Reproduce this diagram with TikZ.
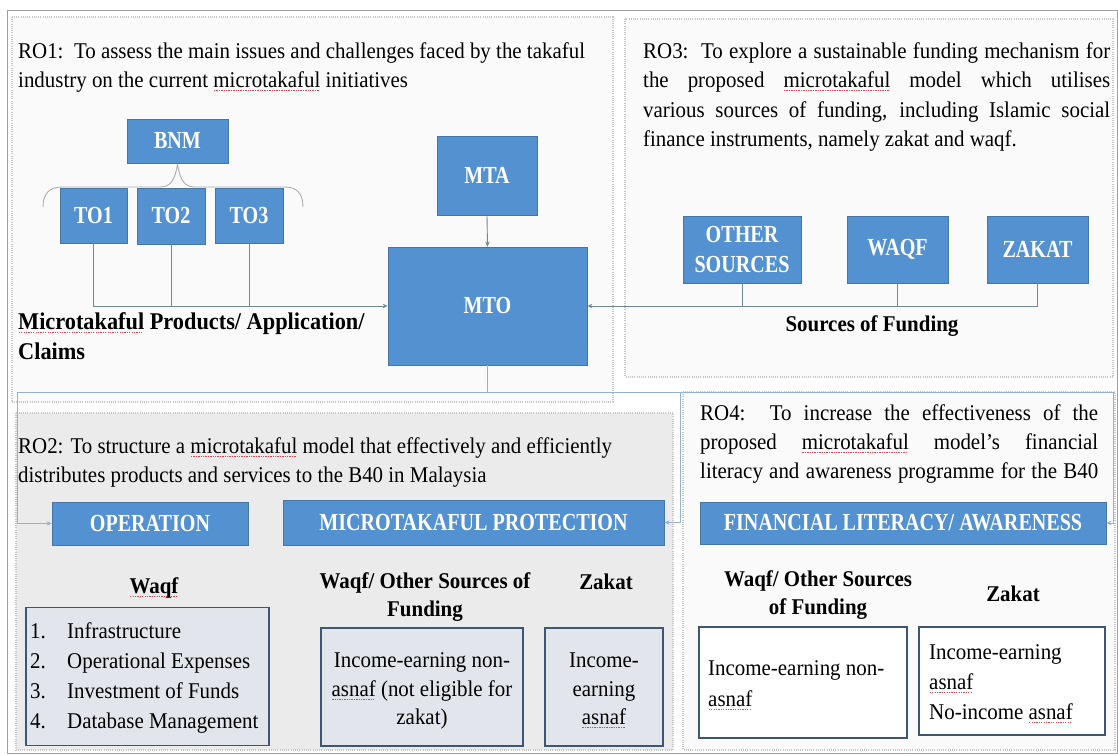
\documentclass[tikz,border=0pt]{standalone}
\usepackage{fontspec}
\setmainfont{Liberation Serif}[FakeStretch=0.93]
\newfontfamily\labelfont{Liberation Serif}[FakeStretch=0.82]
\usetikzlibrary{arrows.meta}

\definecolor{boxblue}{RGB}{84,145,208}
\definecolor{boxedge}{RGB}{70,118,165}
\definecolor{connline}{RGB}{112,134,162}
\definecolor{busline}{RGB}{150,178,210}
\definecolor{oboxedge}{RGB}{62,86,116}
\definecolor{oboxfill}{RGB}{226,230,236}
\definecolor{sqred}{RGB}{215,70,80}

% red spell-check underline under a word
\newsavebox\sqbox
\newcommand{\sqw}[1]{\sbox\sqbox{#1}\rlap{\textcolor{sqred}{\hbox to \wd\sqbox{\leaders\hbox to 2.4pt{\hss\rule[-4pt]{1.3pt}{0.9pt}\hss}\hfill}}}\usebox\sqbox}
\newcommand{\bodysize}{\fontsize{22.5}{29.5}\selectfont}

\begin{document}
\begin{tikzpicture}[x=1pt,y=-1pt,
  frame/.style={draw=gray!75, line width=1pt},
  region/.style={draw=gray!45, line width=1.3pt, dash pattern=on 1pt off 1.2pt},
  bbox/.style={draw=boxedge, line width=0.8pt, fill=boxblue, text=white, align=center, inner sep=0pt,
    font=\labelfont\bfseries\fontsize{24.5}{30}\selectfont},
  obox/.style={draw=oboxedge, line width=1.6pt, inner sep=0pt},
  txt/.style={anchor=base west, inner sep=0pt, font=\bodysize},
  ctxt/.style={anchor=base, inner sep=0pt, font=\bodysize},
  hd/.style={anchor=base, inner sep=0pt, font=\bodysize\bfseries},
  conn/.style={draw=connline, line width=0.9pt},
  bus/.style={draw=busline, line width=1pt},
  tip/.style={-{Stealth[length=5pt,width=4.5pt]}},
  bracel/.style={draw=gray!65, line width=0.9pt}
]
\useasboundingbox (0,0) rectangle (1118,755);
\fill[white] (0,0) rectangle (1118,755);
\draw[frame] (7,10) rectangle (1117,753);

% objective regions
\draw[region, fill=gray!4] (12,17) rectangle (613,402);
\draw[region, fill=gray!4] (625,19) rectangle (1113,377);
\draw[region, fill=gray!4] (683,392) rectangle (1115,750);
\draw[region, fill=gray!16] (16,413) rectangle (673,750);

% RO1 text
\node[txt] (ro1a) at (18,58) {RO1:\ \ To assess the main issues and challenges faced by the takaful};
\node[txt] (ro1b) at (18,87) {industry on the current \sqw{microtakaful} initiatives};
\node[txt, font=\fontsize{24}{30}\selectfont\bfseries] (prodA) at (18,329) {\sqw{Microtakaful} Products/ Application/};
\node[txt, font=\fontsize{24}{30}\selectfont\bfseries] (prodB) at (18,359) {Claims};

% RO3 text
\node[txt] (ro3a) at (643,58) {\makebox[467pt][s]{RO3:\ \ To explore a sustainable funding mechanism for}};
\node[txt] (ro3b) at (643,87) {\makebox[467pt][s]{the proposed \sqw{microtakaful} model which utilises}};
\node[txt] (ro3c) at (643,117) {\makebox[467pt][s]{various sources of funding, including Islamic social}};
\node[txt] (ro3d) at (643,146) {finance instruments, namely zakat and waqf.};
\node[hd] (srcf) at (872,331) {Sources of Funding};

% RO2 text
\node[txt] (ro2a) at (18,453) {RO2: To structure a \sqw{microtakaful} model that effectively and efficiently};
\node[txt] (ro2b) at (18,482) {distributes products and services to the B40 in Malaysia};

% RO4 text
\node[txt] (ro4a) at (700,420) {\makebox[398pt][s]{RO4:\ \ To increase the effectiveness of the}};
\node[txt] (ro4b) at (700,449) {\makebox[398pt][s]{proposed \sqw{microtakaful} model's financial}};
\node[txt] (ro4c) at (700,478) {\makebox[398pt][s]{literacy and awareness programme for the B40}};

% brace joining BNM to the takaful operators
\draw[bracel] (43,207) .. controls (43,194) and (49,187) .. (62,187) -- (160,187)
  .. controls (170,187) and (175,181) .. (177.5,164)
  .. controls (180,181) and (185,187) .. (195,187) -- (285,187)
  .. controls (297,187) and (303,194) .. (303,207);

% blue boxes
\node[bbox, minimum width=101, minimum height=44] (bnm) at (177.5,141) {BNM};
\node[bbox, minimum width=67, minimum height=55] (to1) at (93.5,215.5) {TO1};
\node[bbox, minimum width=68, minimum height=56] (to2) at (171,216) {TO2};
\node[bbox, minimum width=68, minimum height=55] (to3) at (249,215.5) {TO3};
\node[bbox, minimum width=100, minimum height=79] (mta) at (487,175.5) {MTA};
\node[bbox, minimum width=199, minimum height=118] (mto) at (487.5,306) {MTO};
\node[bbox, minimum width=118, minimum height=67] (oth) at (742,249.5) {OTHER\\SOURCES};
\node[bbox, minimum width=101, minimum height=67] (wqf) at (897.5,249.5) {WAQF};
\node[bbox, minimum width=101, minimum height=67] (zkt) at (1037.5,249.5) {ZAKAT};
\node[bbox, minimum width=196, minimum height=43] (op) at (150,523.5) {OPERATION};
\node[bbox, minimum width=381, minimum height=45] (mp) at (473.5,522.5) {MICROTAKAFUL PROTECTION};
\node[bbox, minimum width=406, minimum height=42] (fin) at (903,523) {FINANCIAL LITERACY/ AWARENESS};

% connectors into MTO
\draw[conn, tip] (to1.south) |- (mto.west);
\draw[conn] (to2.south) -- (to2.south |- mto.west);
\draw[conn] (to3.south) -- (to3.south |- mto.west);
\draw[conn, tip] (mta.south) -- (mto.north);
\draw[conn, tip] (zkt.south) |- (mto.east);
\draw[conn] (wqf.south) -- (wqf.south |- mto.east);
\draw[conn] (oth.south) -- (oth.south |- mto.east);

% distribution from MTO to the three programmes
\coordinate (busL) at (17,392);
\coordinate (busM) at (680,392);
\coordinate (busR) at (1113,392);
\draw[bus] (mto.south) -- (mto.south |- busL);
\draw[bus] (busL) -- (busR);
\draw[bus, tip] (busL) |- (op.west);
\draw[bus, tip] (busM) |- (mp.east);
\draw[bus, tip] (busR) |- (fin.east);

% RO2 funding headings and boxes
\node[hd] (hwaqf) at (154,593) {\sqw{Waqf}};
\node[obox, fill=oboxfill, minimum width=243, minimum height=138] (wlist) at (147.5,676.5) {};
\node[txt] (n1) at (30,638) {1.};
\node[txt] (i1) at (67,638) {Infrastructure};
\node[txt] (n2) at (30,668) {2.};
\node[txt] (i2) at (67,668) {Operational Expenses};
\node[txt] (n3) at (30,698) {3.};
\node[txt] (i3) at (67,698) {Investment of Funds};
\node[txt] (n4) at (30,728) {4.};
\node[txt] (i4) at (67,728) {Database Management};

\node[hd] (hwo1) at (425,588) {Waqf/ Other Sources of};
\node[hd] (hwo2) at (425,616) {Funding};
\node[hd] (hzk) at (606,589) {Zakat};
\node[obox, fill=oboxfill, minimum width=202, minimum height=118] (midbox) at (422,687) {};
\node[ctxt] (m1) at (422,667) {Income-earning non-};
\node[ctxt] (m2) at (422,696) {\sqw{asnaf} (not eligible for};
\node[ctxt] (m3) at (422,724) {zakat)};
\node[obox, fill=oboxfill, minimum width=118, minimum height=118] (zkbox) at (604,687) {};
\node[ctxt] (z1) at (604,667) {Income-};
\node[ctxt] (z2) at (604,696) {earning};
\node[ctxt] (z3) at (604,724) {\sqw{asnaf}};

% RO4 funding headings and boxes
\node[hd] (h4a) at (818,586) {Waqf/ Other Sources};
\node[hd] (h4b) at (818,614) {of Funding};
\node[hd] (h4z) at (1013,601) {Zakat};
\node[obox, fill=white, minimum width=208, minimum height=111] (r4l) at (803,682.5) {};
\node[txt] (l1) at (708,675) {Income-earning non-};
\node[txt] (l2) at (708,706) {\sqw{asnaf}};
\node[obox, fill=white, minimum width=186, minimum height=108] (r4r) at (1012,681) {};
\node[txt] (r1) at (929,659) {Income-earning};
\node[txt] (r2) at (929,689) {\sqw{asnaf}};
\node[txt] (r3) at (929,719) {No-income \sqw{asnaf}};
\end{tikzpicture}
\end{document}
